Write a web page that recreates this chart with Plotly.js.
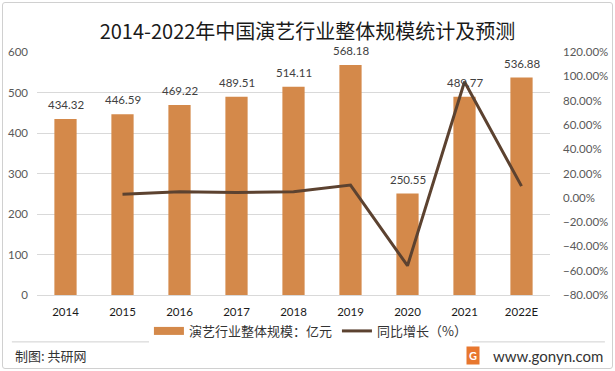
<!DOCTYPE html>
<html>
<head>
<meta charset="utf-8">
<script src="https://cdn.plot.ly/plotly-3.0.1.min.js"></script>
<style>
html,body{margin:0;padding:0;background:#fff;}
#wrap{position:relative;width:615px;height:371px;}
#chart{width:615px;height:371px;}
#frame{position:absolute;left:2px;top:2px;width:609px;height:365px;border:1px solid #D0D0D0;border-radius:3px;pointer-events:none;}
</style>
</head>
<body>
<div id="wrap"><div id="chart"></div><div id="frame"></div></div>
<script>
const years = ['2014','2015','2016','2017','2018','2019','2020','2021','2022E'];
const scale = [434.32, 446.59, 469.22, 489.51, 514.11, 568.18, 250.55, 489.77, 536.88];
const growthYears = ['2015','2016','2017','2018','2019','2020','2021','2022E'];
const growth = [2.83, 5.07, 4.32, 5.03, 10.52, -55.90, 95.48, 9.62];
const barName = '演艺行业整体规模：亿元';
const lineName = '同比增长（%）';
const titleText = '2014-2022年中国演艺行业整体规模统计及预测';

const numFont = 'Lato, "Noto Sans CJK SC", sans-serif';
const cjkFont = '"Noto Sans CJK SC", "Noto Sans", sans-serif';
const barColor = '#D4894A';

const traces = [
  {
    type: 'bar', x: years, y: scale, name: barName,
    marker: {color: barColor}, showlegend: false,
    hoverinfo: 'none'
  },
  // legend-only entry so the bar swatch is a wide strip like the reference
  {
    type: 'scatter', mode: 'lines', x: [null], y: [null], name: barName,
    line: {color: barColor, width: 8}, hoverinfo: 'none'
  },
  {
    type: 'scatter', mode: 'lines', x: growthYears, y: growth, name: lineName,
    yaxis: 'y2', line: {color: '#5C4230', width: 3},
    hoverinfo: 'none'
  }
];

// category axis annotations take the category index
const labels = years.map((yr, i) => ({
  x: i, y: scale[i], xref: 'x', yref: 'y', text: scale[i].toFixed(2),
  showarrow: false, yanchor: 'bottom', yshift: 6,
  font: {family: numFont, size: 11.5, color: '#404040'}
}));

const annotations = labels.concat([
  {xref: 'paper', yref: 'paper', x: -0.047, y: -0.251, xanchor: 'left', yanchor: 'middle',
   text: '制图: 共研网', showarrow: false, font: {family: cjkFont, size: 13, color: '#333333'}},
  {xref: 'paper', yref: 'paper', x: 1.107, y: -0.251, xanchor: 'right', yanchor: 'middle',
   text: 'www.gonyn.com', showarrow: false, font: {family: 'Lato, "DejaVu Sans", sans-serif', size: 15, color: '#333333'}},
  {xref: 'paper', yref: 'paper', x: 0.850, y: -0.251, xanchor: 'center', yanchor: 'middle',
   text: '<b>G</b>', showarrow: false, bgcolor: '#E8772E', borderpad: 2,
   font: {family: 'Lato, sans-serif', size: 11, color: '#ffffff'}}
]);

const layout = {
  width: 615, height: 371,
  margin: {l: 37, r: 65, t: 52, b: 76},
  paper_bgcolor: '#ffffff', plot_bgcolor: '#ffffff',
  title: {text: titleText, x: 0.5, xanchor: 'center', y: 0.914, yanchor: 'middle',
          font: {family: cjkFont, size: 20, color: '#1a1a1a'}},
  bargap: 0.61,
  showlegend: true,
  legend: {orientation: 'h', x: 0.533, xanchor: 'center', y: -0.148, yanchor: 'middle',
           font: {family: cjkFont, size: 13, color: '#333333'}, itemwidth: 30, traceorder: 'normal'},
  xaxis: {type: 'category', range: [-0.5, 8.5], showgrid: false, showline: true, linecolor: '#D9D9D9', linewidth: 1,
          ticks: '', tickfont: {family: numFont, size: 11.5, color: '#1a1a1a'}, ticklabelstandoff: 6,
          fixedrange: true},
  yaxis: {range: [0, 600], dtick: 100, tick0: 0, showgrid: true, gridcolor: '#D9D9D9', gridwidth: 1,
          zeroline: false, ticks: '', tickfont: {family: numFont, size: 11.5, color: '#595959'},
          ticklabelstandoff: 8, fixedrange: true},
  yaxis2: {overlaying: 'y', side: 'right', range: [-80, 120], dtick: 20, tick0: 0, showgrid: false,
           zeroline: false, ticks: '', tickformat: '.2f', ticksuffix: '%',
           tickfont: {family: numFont, size: 11.5, color: '#595959'}, ticklabelstandoff: 12, fixedrange: true},
  shapes: [
    {type: 'line', xref: 'paper', yref: 'paper', x0: -0.049, x1: 1.107, y0: -0.193, y1: -0.193,
     line: {color: '#D0D0D0', width: 1}}
  ],
  annotations: annotations
};

Plotly.newPlot('chart', traces, layout, {displayModeBar: false, staticPlot: true});
</script>
</body>
</html>
